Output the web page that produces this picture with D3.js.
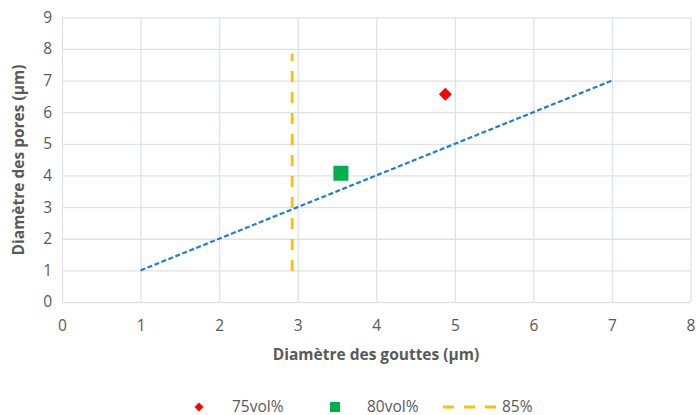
<!DOCTYPE html>
<html><head><meta charset="utf-8">
<script src="https://cdn.jsdelivr.net/npm/d3@7"></script>
<style>body{margin:0;background:#fff}svg{display:block}text{font-family:"Open Sans",sans-serif}</style>
</head><body><div id="c"></div>
<script>
const xTicks = [0,1,2,3,4,5,6,7,8];
const yTicks = [0,1,2,3,4,5,6,7,8,9];
const series75 = [[4.88, 6.57]];
const series80 = [[3.55, 4.07]];
const series85 = [[2.93, 0.98],[2.93, 7.85]];
const refLine = [[1,1],[7,7]];
const legendLabels = ["75vol%","80vol%","85%"];
const xTitle = "Diamètre des gouttes (µm)";
const yTitle = "Diamètre des pores (µm)";

const W=696,H=415;
const svg=d3.select("#c").append("svg").attr("width",W).attr("height",H);
const x=d3.scaleLinear().domain([0,8]).range([62,690.5]);
const y=d3.scaleLinear().domain([0,9]).range([302,17.3]);
const grid="#dfe2e8", txt="#595959";

const g=svg.append("g");
g.append("g").attr("transform",`translate(0,${y(0)})`)
 .call(d3.axisBottom(x).tickValues(xTicks).tickSize(-(y(0)-y(9))).tickPadding(18))
 .call(a=>{a.select(".domain").remove();a.selectAll("line").attr("stroke",grid).attr("stroke-width",1.3);
   a.selectAll("text").attr("fill",txt).attr("font-size",15.5);});
g.append("g").attr("transform",`translate(${x(0)},0)`)
 .call(d3.axisLeft(y).tickValues(yTicks).tickSize(-(x(8)-x(0))).tickPadding(10))
 .call(a=>{a.select(".domain").remove();a.selectAll("line").attr("stroke",grid).attr("stroke-width",1.3);
   a.selectAll("text").attr("fill",txt).attr("font-size",15.5);});

const line=d3.line().x(d=>x(d[0])).y(d=>y(d[1]));
svg.append("path").datum(refLine).attr("d",line).attr("fill","none")
 .attr("stroke","#1f7fcf").attr("stroke-width",2.2).attr("stroke-dasharray","5,2.5");
svg.append("path").datum(series85).attr("d",line).attr("fill","none")
 .attr("stroke","#ffc000").attr("stroke-width",2.8).attr("stroke-dasharray","11,10");

svg.selectAll(".sq").data(series80).join("rect")
 .attr("x",d=>x(d[0])-7.5).attr("y",d=>y(d[1])-7.5).attr("width",15).attr("height",15).attr("fill","#00b050");
svg.selectAll(".dm").data(series75).join("path")
 .attr("d",d3.symbol(d3.symbolSquare,85)).attr("transform",d=>`translate(${x(d[0])},${y(d[1])}) rotate(45)`)
 .attr("fill","#ff0000");

svg.append("text").attr("x",376).attr("y",360).attr("text-anchor","middle").attr("font-size",15.5)
 .attr("font-weight","bold").attr("fill",txt).text(xTitle);
svg.append("text").attr("transform","translate(24,160) rotate(-90)").attr("text-anchor","middle")
 .attr("font-size",15.5).attr("font-weight","bold").attr("fill",txt).text(yTitle);

// legend
const ly=407;
const lb=ly+4.5;
svg.append("path").attr("d",d3.symbol(d3.symbolSquare,40)).attr("transform",`translate(199,${ly}) rotate(45)`).attr("fill","#ff0000");
svg.append("text").attr("x",232).attr("y",lb).attr("font-size",15.5).attr("fill",txt).text(legendLabels[0]);
svg.append("rect").attr("x",330).attr("y",ly-5).attr("width",10).attr("height",10).attr("fill","#00b050");
svg.append("text").attr("x",367).attr("y",lb).attr("font-size",15.5).attr("fill",txt).text(legendLabels[1]);
svg.append("line").attr("x1",443).attr("x2",496).attr("y1",ly).attr("y2",ly).attr("stroke","#ffc000")
 .attr("stroke-width",2.8).attr("stroke-dasharray","11,10");
svg.append("text").attr("x",502).attr("y",lb).attr("font-size",15.5).attr("fill",txt).text(legendLabels[2]);
</script></body></html>
